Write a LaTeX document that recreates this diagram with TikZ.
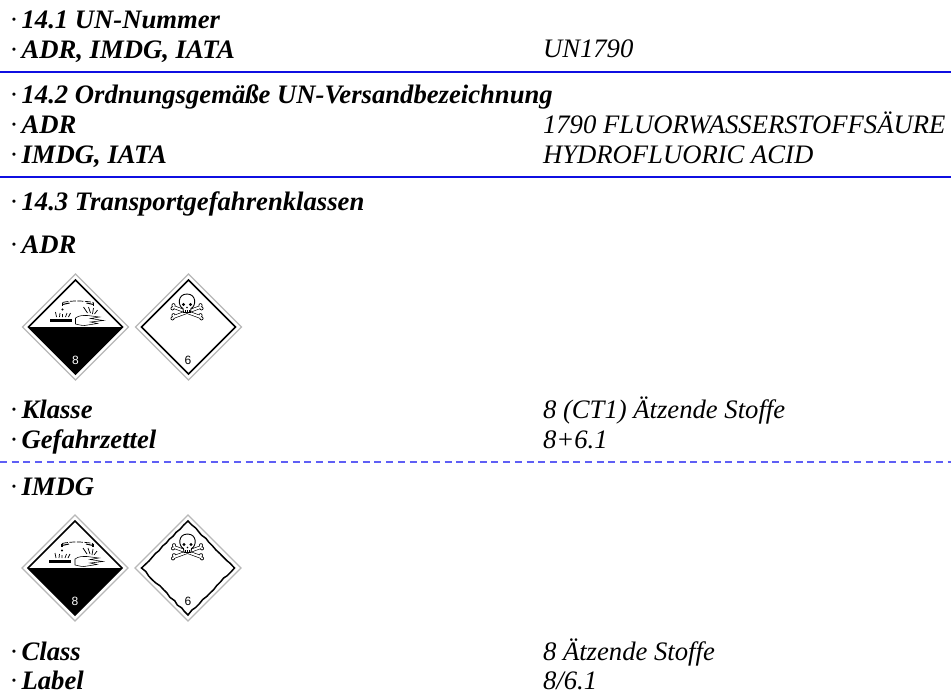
\documentclass[tikz,border=0pt]{standalone}
\usepackage{fontspec}
\setmainfont{Liberation Serif}
\newfontfamily\numfont{Liberation Sans}
\usetikzlibrary{decorations.pathmorphing}
\definecolor{rule}{RGB}{15,15,225}
\definecolor{dashrule}{RGB}{95,95,245}
\newcommand{\lab}[1]{{\fontsize{26.67}{26.67}\selectfont\textperiodcentered\kern3.2pt\bfseries\itshape #1}}
\newcommand{\val}[1]{{\fontsize{26.67}{26.67}\selectfont\itshape #1}}
\tikzset{
  x=1pt,y=-1pt,
  txt/.style={anchor=base west,inner sep=0pt,outer sep=0pt},
  rulefull/.style={rule,line width=2pt},
  ruledash/.style={dashrule,line width=1.6pt,dash pattern=on 7pt off 4.7pt},
  outerd/.style={draw=black!28,line width=1.3pt,fill=white},
  innerd/.style={draw=black,line width=1.5pt,line join=miter},
  thin1/.style={draw=black,line width=0.7pt},
  pics/base/.style={code={
    \draw[outerd] (0,-53)--(53,0)--(0,53)--(-53,0)--cycle;
  }},
  pics/corr/.style={code={
    \draw[outerd] (0,-53)--(53,0)--(0,53)--(-53,0)--cycle;
    \fill[black] (-47,0)--(47,0)--(0,47)--cycle;
    \draw[innerd] (0,-47)--(47,0)--(0,47)--(-47,0)--cycle;
    \node[text=white,inner sep=0pt] (#1n) at (0,33) {\numfont\fontsize{12}{12}\selectfont 8};
    \fill[black] (-26,-8) rectangle (-4,-5);
    \draw[thin1] (-19,-10)--(-20,-15) (-16,-10)--(-15.5,-14) (-13,-10)--(-13,-13) (-10,-10)--(-8.5,-14) (-7,-10)--(-5,-14);
    \fill[black] (-13,-17.5) circle (1.1);
    \draw[thin1,dash pattern=on 6pt off 1.5pt] (-13,-24.5) .. controls (-5,-26.5) and (8,-26.5) .. (18,-24.5);
    \draw[black,line width=1.2pt] (-13,-24.5)--(-13,-21.5) (18,-24.5)--(18,-21.5);
    \draw[black,line width=1pt] (-13,-22.5)--(-6,-24) (18,-22.5)--(11,-24);
    \draw[thin1] (8,-20)--(12,-14) (13,-20)--(15,-14) (18,-19)--(17,-13) (22,-17)--(19,-13);
    \draw[draw=black,line width=0.55pt,fill=white] (0,-9) .. controls (4,-12) and (8,-11.5) .. (12,-11.5) -- (24,-10) -- (15,-8.5) -- (28,-6.5) -- (15,-5) -- (22,-3.5) -- (9,-1.5) .. controls (5,-1.5) and (3,-2.5) .. (0,-3) -- cycle;
  }},
  pics/skull/.style={code={
    \foreach \a/\b/\c/\d in {-14/-20/13/-10,-14/-10/13/-20}{
      \draw[black,line width=3.4pt,line cap=round] (\a,\b)--(\c,\d);
      \fill[black] (\a,\b-1.8) circle (2) (\a-1,\b+1.4) circle (2) (\c,\d-1.8) circle (2) (\c+1,\d+1.4) circle (2);
    }
    \foreach \a/\b/\c/\d in {-14/-20/13/-10,-14/-10/13/-20}{
      \draw[white,line width=2.1pt,line cap=round] (\a,\b)--(\c,\d);
      \fill[white] (\a,\b-1.8) circle (1.3) (\a-1,\b+1.4) circle (1.3) (\c,\d-1.8) circle (1.3) (\c+1,\d+1.4) circle (1.3);
    }
    \draw[black,line width=0.9pt,fill=white] (-4.5,-18.5) .. controls (-10,-21) and (-10,-33) .. (-0.5,-33) .. controls (9,-33) and (9,-21) .. (3.5,-18.5) -- (3,-14.5) -- (-4,-14.5) -- cycle;
    \fill[black] (-4,-22.5) circle (1.7) (3,-22.5) circle (1.7) (-0.5,-19.5) circle (0.8);
    \draw[black,line width=0.6pt] (-2.5,-17)--(-2.5,-14.5) (-0.5,-17)--(-0.5,-14.5) (1.5,-17)--(1.5,-14.5);
  }},
}
\begin{document}
\begin{tikzpicture}
\useasboundingbox (0,0) rectangle (951,693);
\fill[white] (0,0) rectangle (951,693);
% section 14.1
\node[txt] (a1) at (9.5,29) {\lab{14.1 UN-Nummer}};
\node[txt] (a2) at (9.5,58.5) {\lab{ADR, IMDG, IATA}};
\node[txt] (a2v) at (543,57.5) {\val{UN1790}};
\draw[rulefull] (0,72)--(951,72);
% section 14.2
\node[txt] (b1) at (9.5,103) {\lab{14.2 Ordnungsgemäße UN-Versandbezeichnung}};
\node[txt] (b2) at (9.5,133.5) {\lab{ADR}};
\node[txt] (b2v) at (543,133) {\val{1790 FLUORWASSERSTOFFSÄURE}};
\node[txt] (b3) at (9.5,163) {\lab{IMDG, IATA}};
\node[txt] (b3v) at (543,163) {\val{HYDROFLUORIC ACID}};
\draw[rulefull] (0,177)--(951,177);
% section 14.3
\node[txt] (c1) at (9.5,210) {\lab{14.3 Transportgefahrenklassen}};
\node[txt] (c2) at (9.5,253) {\lab{ADR}};
\pic at (75.5,327) {corr=p1};
\pic at (188.5,327) {base};
\draw[innerd] (188.5,280)--(235.5,327)--(188.5,374)--(141.5,327)--cycle;
\pic at (187.5,327) {skull};
\node[inner sep=0pt] (p2n) at (188,360) {\numfont\fontsize{12}{12}\selectfont 6};
\node[txt] (c3) at (9.5,418) {\lab{Klasse}};
\node[txt] (c3v) at (543,418) {\val{8 (CT1) Ätzende Stoffe}};
\node[txt] (c4) at (9.5,448) {\lab{Gefahrzettel}};
\node[txt] (c4v) at (543,448) {\val{8+6.1}};
\draw[ruledash] (0,462)--(951,462);
% IMDG
\node[txt] (d1) at (9.5,495) {\lab{IMDG}};
\pic at (75,568) {corr=p3};
\pic at (188,568) {base};
\draw[innerd,decorate,decoration={random steps,segment length=5pt,amplitude=0.7pt}] (188,521)--(234.5,568)--(188,615)--(141.5,568)--cycle;
\pic at (188,567) {skull};
\node[inner sep=0pt] (p4n) at (188,601) {\numfont\fontsize{12}{12}\selectfont 6};
\node[txt] (d2) at (9.5,660) {\lab{Class}};
\node[txt] (d2v) at (543,660) {\val{8 Ätzende Stoffe}};
\node[txt] (d3) at (9.5,689) {\lab{Label}};
\node[txt] (d3v) at (543,689) {\val{8/6.1}};
\end{tikzpicture}
\end{document}
